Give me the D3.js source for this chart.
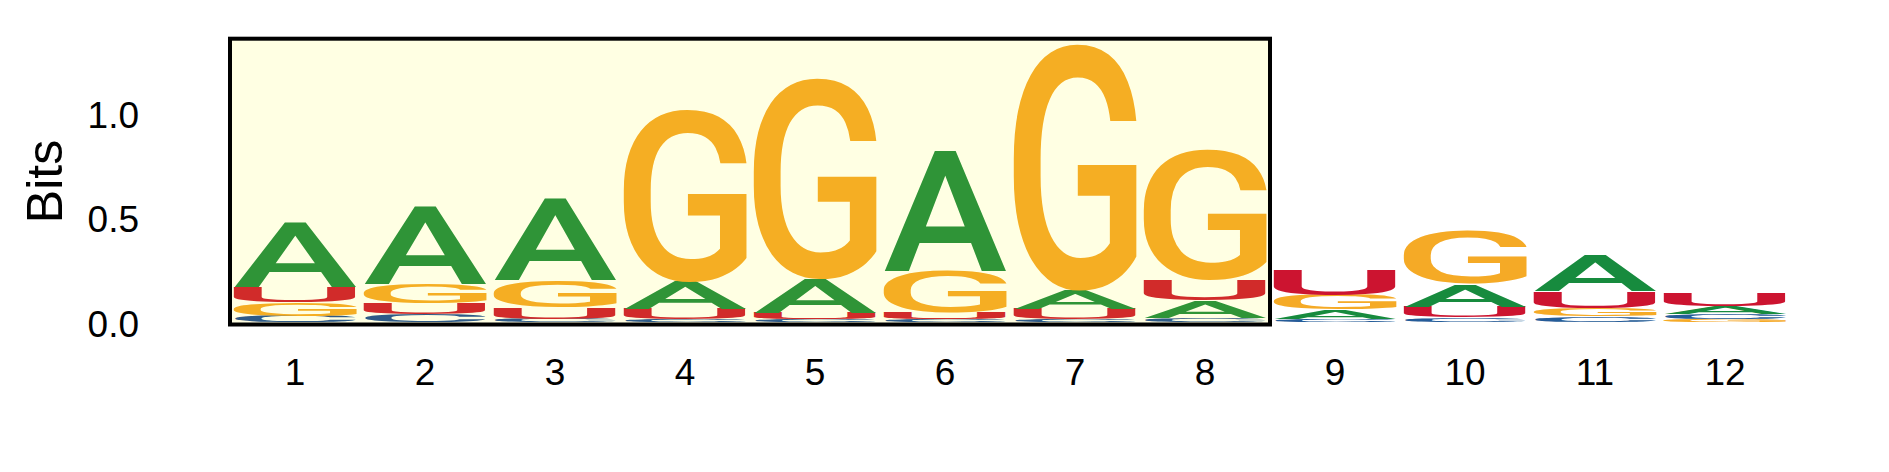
<!DOCTYPE html>
<html>
<head>
<meta charset="utf-8">
<script src="https://cdn.jsdelivr.net/npm/d3@7"></script>
<style>
  body { margin: 0; background: #fff; }
</style>
</head>
<body>
<div id="chart"></div>
<script>

// positions along the motif
var positions = [1, 2, 3, 4, 5, 6, 7, 8, 9, 10, 11, 12];

// information content (bits) per letter, one value per position
var bitsA = [0.314, 0.380, 0.396, 0.132, 0.163, 0.584, 0.088, 0.083, 0.046, 0.110, 0.169, 0.038];
var bitsC = [0.030, 0.038, 0.016, 0.012, 0.013, 0.013, 0.013, 0.021, 0.013, 0.021, 0.027, 0.024];
var bitsG = [0.066, 0.092, 0.132, 0.825, 0.958, 0.200, 1.175, 0.619, 0.069, 0.249, 0.040, 0.014];
var bitsU = [0.073, 0.051, 0.054, 0.048, 0.029, 0.032, 0.049, 0.096, 0.124, 0.053, 0.080, 0.062];

// highlighted block of positions
var highlight = [1, 8];

var yTicks = [0.0, 0.5, 1.0];
var yMax = 1.3555;

var letters = ["A", "C", "G", "U"];
var colInside = {A: "#2f9437", C: "#2e5a87", G: "#f5ae23", U: "#d12b2a"};
var colOutside = {A: "#178b3e", C: "#255c99", G: "#f5aa26", U: "#cc1430"};

var w = 1889, h = 472;
var fontFam = "'Liberation Sans', Arial, Helvetica, sans-serif";
var logoFont = "Roboto, sans-serif";
var logoWeight = 500;

var svg = d3.select("#chart").append("svg")
    .attr("width", w)
    .attr("height", h)
    .style("display", "block");

svg.append("rect").attr("x", 0).attr("y", 0).attr("width", w).attr("height", h)
    .style("fill", "#ffffff");

// scales
var x = d3.scaleBand()
    .domain(positions)
    .range([230, 1790])
    .paddingInner(0.05)
    .paddingOuter(0.025);

var y = d3.scaleLinear()
    .domain([0, yMax])
    .range([322, 38.7]);

// highlight box background
var boxX0 = x(highlight[0]) - x.step() * x.paddingInner() / 2;
var boxX1 = x(highlight[1]) + x.bandwidth() + x.step() * x.paddingInner() / 2;
svg.append("rect")
    .attr("x", boxX0).attr("y", y(yMax))
    .attr("width", boxX1 - boxX0)
    .attr("height", y(0) + 2.5 - y(yMax))
    .style("fill", "#ffffe3");

// measure tight glyph bounds so each letter can be stretched to its slot
var cnv = document.createElement("canvas");
var ctx = cnv.getContext("2d");
ctx.font = logoWeight + " 100px " + logoFont;
var glyph = {};
letters.forEach(function(l) {
  var m = ctx.measureText(l);
  glyph[l] = {
    left: -m.actualBoundingBoxLeft,
    top: -m.actualBoundingBoxAscent,
    w: m.actualBoundingBoxLeft + m.actualBoundingBoxRight,
    h: m.actualBoundingBoxAscent + m.actualBoundingBoxDescent
  };
});

// build stacks, smallest at the bottom
var table = {A: bitsA, C: bitsC, G: bitsG, U: bitsU};
var stacks = [];
positions.forEach(function(p, i) {
  var col = letters.map(function(l) { return {letter: l, pos: p, bits: table[l][i]}; });
  col.sort(function(a, b) { return a.bits - b.bits; });
  var acc = 0;
  col.forEach(function(d) {
    d.y0 = acc;
    acc += d.bits;
    d.y1 = acc;
    stacks.push(d);
  });
});

var inBox = function(p) { return p >= highlight[0] && p <= highlight[1]; };

svg.append("g").selectAll("text")
    .data(stacks)
    .enter().append("text")
    .text(function(d) { return d.letter; })
    .attr("x", 0).attr("y", 0)
    .style("font-family", logoFont)
    .style("font-weight", logoWeight)
    .style("font-size", "100px")
    .style("fill", function(d) { return inBox(d.pos) ? colInside[d.letter] : colOutside[d.letter]; })
    .attr("transform", function(d) {
      var g = glyph[d.letter];
      var bx = x(d.pos), by = y(d.y1);
      var sx = x.bandwidth() / g.w;
      var sy = (y(d.y0) - y(d.y1)) / g.h;
      return "translate(" + bx + "," + by + ") scale(" + sx + "," + sy + ") translate(" + (-g.left) + "," + (-g.top) + ")";
    });

// frame on top
svg.append("rect")
    .attr("x", boxX0).attr("y", y(yMax))
    .attr("width", boxX1 - boxX0)
    .attr("height", y(0) + 2.5 - y(yMax))
    .style("fill", "none")
    .style("stroke", "#000")
    .style("stroke-width", 4);

// y tick labels (no axis line)
svg.append("g").selectAll("text")
    .data(yTicks)
    .enter().append("text")
    .attr("x", 139)
    .attr("y", function(d) { return y(d) + 15; })
    .attr("text-anchor", "end")
    .style("font-family", fontFam)
    .style("font-size", "37px")
    .style("fill", "#000")
    .text(function(d) { return d3.format(".1f")(d); });

// x labels
svg.append("g").selectAll("text")
    .data(positions)
    .enter().append("text")
    .attr("x", function(d) { return x(d) + x.bandwidth() / 2; })
    .attr("y", 385)
    .attr("text-anchor", "middle")
    .style("font-family", fontFam)
    .style("font-size", "37px")
    .style("fill", "#000")
    .text(function(d) { return d; });

// axis title
svg.append("text")
    .attr("transform", "translate(61.5,181.5) rotate(-90)")
    .attr("text-anchor", "middle")
    .style("font-family", fontFam)
    .style("font-size", "50px")
    .style("fill", "#000")
    .text("Bits");

</script>
</body>
</html>
